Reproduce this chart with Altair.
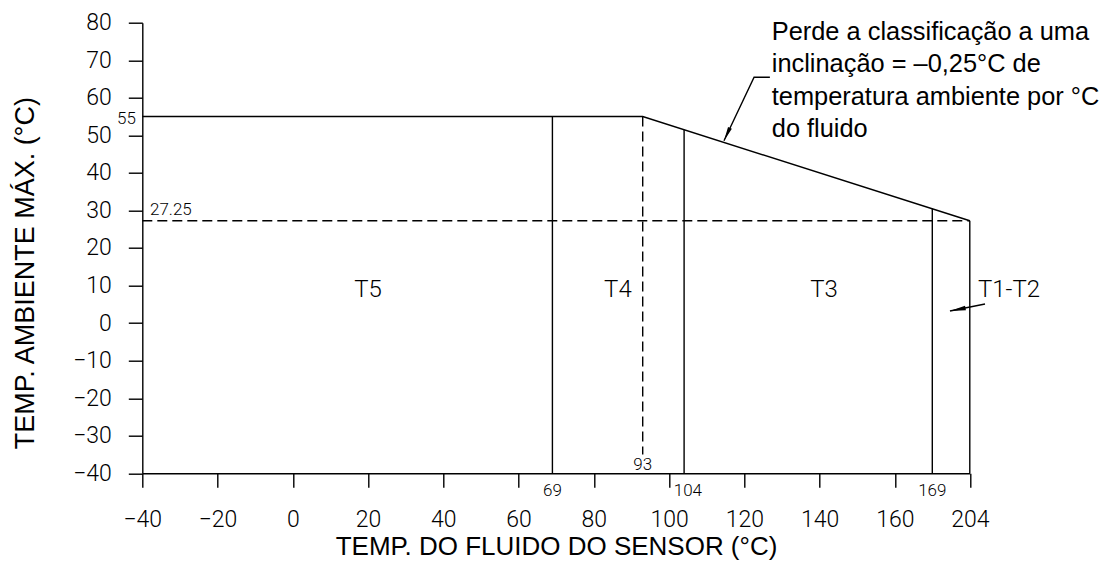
import altair as alt
import pandas as pd

# ---- data ----
bound_x = [69, 93, 104, 169, 204]          # zone boundaries (°C fluid)
bound_top = [55, 55, 51.5, 30.5, 27.25]    # top of each boundary (°C ambient)
bound_style = ["solid", "dashed", "solid", "solid", "solid"]
bound_bottom = [-40, -35, -40, -40, -40]

env_x = [-40, 93, 204]                     # max ambient envelope
env_y = [55, 55, 27.25]

ref_level = [27.25]                        # dashed reference level
ref_from = [-40]
ref_to = [204]

x_ticks = [-40, -20, 0, 20, 40, 60, 80, 100, 120, 140, 160, 204]
y_ticks = [-40, -30, -20, -10, 0, 10, 20, 30, 40, 50, 60, 70, 80]

zone_names = ["T5", "T4", "T3", "T1-T2"]
zone_x = [20, 86.4, 141.2, 211.6]
zone_y = [8.7, 8.7, 8.7, 8.8]
zone_align = ["center", "center", "center", "left"]

small_text = ["55", "27.25", "69", "93", "104", "169"]
small_x = [-41.7, -37.95, 69, 93, 105, 169]
small_y = [53.0, 28.8, -46.05, -39.1, -46.05, -46.05]
small_align = ["right", "left", "center", "center", "center", "center"]

note_lines = "Perde a classificação a uma\ninclinação = –0,25°C de\ntemperatura ambiente por °C\ndo fluido"
note_x = [127.3]
note_y = [75.4]

lead1_x = [126.8, 122.6, 114.6]
lead1_y = [65.46, 65.46, 48.58]
lead2_x = [218.2, 185.5]
lead2_y = [5.09, 3.22]

# ---- scales / axes ----
xs = alt.Scale(domain=[-40, 160, 169, 204], range=[0, 752.5, 790, 827.5], nice=False, zero=False)
ys = alt.Scale(domain=[-40, 80], nice=False, zero=False)

x_axis = alt.Axis(values=x_ticks, title="TEMP. DO FLUIDO DO SENSOR (°C)", labelBaseline="alphabetic",
                  labelPadding=39, titleY=81.7, titleBaseline="alphabetic", titleFontSize=26)
y_axis = alt.Axis(values=y_ticks, title="TEMP. AMBIENTE MÁX. (°C)", labelPadding=17,
                  titleX=-109, titleY=250, titleBaseline="alphabetic", titleAngle=270,
                  titleAlign="center", titleFontSize=27)


def X(f):
    return alt.X(f, type="quantitative", scale=xs, axis=x_axis)


def Y(f):
    return alt.Y(f, type="quantitative", scale=ys, axis=y_axis)


bounds = pd.DataFrame({"x": bound_x, "top": bound_top, "bottom": bound_bottom, "style": bound_style})
env = pd.DataFrame({"x": env_x, "y": env_y, "o": list(range(len(env_x)))})
ref = pd.DataFrame({"x": ref_from, "x2": ref_to, "y": ref_level})
zones = pd.DataFrame({"x": zone_x, "y": zone_y, "t": zone_names, "a": zone_align})
smalls = pd.DataFrame({"x": small_x, "y": small_y, "t": small_text, "a": small_align})
note = pd.DataFrame({"x": note_x, "y": note_y, "t": [note_lines]})
lead1 = pd.DataFrame({"x": lead1_x, "y": lead1_y, "o": list(range(len(lead1_x)))})
lead2 = pd.DataFrame({"x": lead2_x, "y": lead2_y, "o": list(range(len(lead2_x)))})

LW = 1.4

rules = alt.Chart(bounds).mark_rule(color="black", strokeWidth=LW).encode(
    x=X("x"), y=Y("top"), y2="bottom",
    strokeDash=alt.StrokeDash("style:N", scale=alt.Scale(domain=["solid", "dashed"], range=[[1, 0], [10, 5]]), legend=None),
)
envelope = alt.Chart(env).mark_line(color="black", strokeWidth=LW).encode(x=X("x"), y=Y("y"), order="o:Q")
refline = alt.Chart(ref).mark_rule(color="black", strokeWidth=LW, strokeDash=[10, 5]).encode(x=X("x"), x2="x2", y=Y("y"))

zone_txt = []
for al in ["center", "left"]:
    zone_txt.append(
        alt.Chart(zones[zones.a == al]).mark_text(font="Roboto", fontWeight=300, fontSize=24, color="black",
                                                   align=al, baseline="middle").encode(x=X("x"), y=Y("y"), text="t:N")
    )
small_txt = []
for al in ["left", "center", "right"]:
    small_txt.append(
        alt.Chart(smalls[smalls.a == al]).mark_text(font="Roboto", fontWeight=300, fontSize=17, color="black",
                                                    align=al, baseline="alphabetic").encode(x=X("x"), y=Y("y"), text="t:N")
    )

note_txt = alt.Chart(note).mark_text(font="Liberation Sans", fontSize=25.4, color="black", align="left",
                                     baseline="alphabetic", lineBreak="\n", lineHeight=32.5).encode(
    x=X("x"), y=Y("y"), text="t:N")

l1 = alt.Chart(lead1).mark_line(color="black", strokeWidth=LW).encode(x=X("x"), y=Y("y"), order="o:Q")
l2 = alt.Chart(lead2).mark_line(color="black", strokeWidth=LW).encode(x=X("x"), y=Y("y"), order="o:Q")

arrow_path = "M0,0 L0.3,2 L-0.3,2 Z"
h1 = alt.Chart(lead1.tail(1)).mark_point(shape=arrow_path, filled=True, size=200, color="black", opacity=1,
                                         angle=205).encode(x=X("x"), y=Y("y"))
h2 = alt.Chart(lead2.tail(1)).mark_point(shape=arrow_path, filled=True, size=250, color="black", opacity=1,
                                         angle=259).encode(x=X("x"), y=Y("y"))

chart = alt.layer(rules, envelope, refline, *zone_txt, *small_txt, note_txt, l1, l2, h1, h2).properties(
    width=827.5, height=450.6,
    autosize=alt.AutoSizeParams(type="none"),
    padding={"left": 134.3, "top": 14.7, "right": 138, "bottom": 87},
).configure_view(stroke=None).configure_axis(
    labelFont="Roboto", labelFontWeight=300, labelFontSize=23, labelColor="black",
    domainColor="black", tickColor="black", domainWidth=LW, tickWidth=LW, tickSize=14,
    grid=False, titleFont="Liberation Sans", titleFontWeight="normal", titleColor="black",
    labelFlush=False, labelOverlap=False,
)

chart.save("out.html", embed_options={"renderer": "svg", "actions": False})
